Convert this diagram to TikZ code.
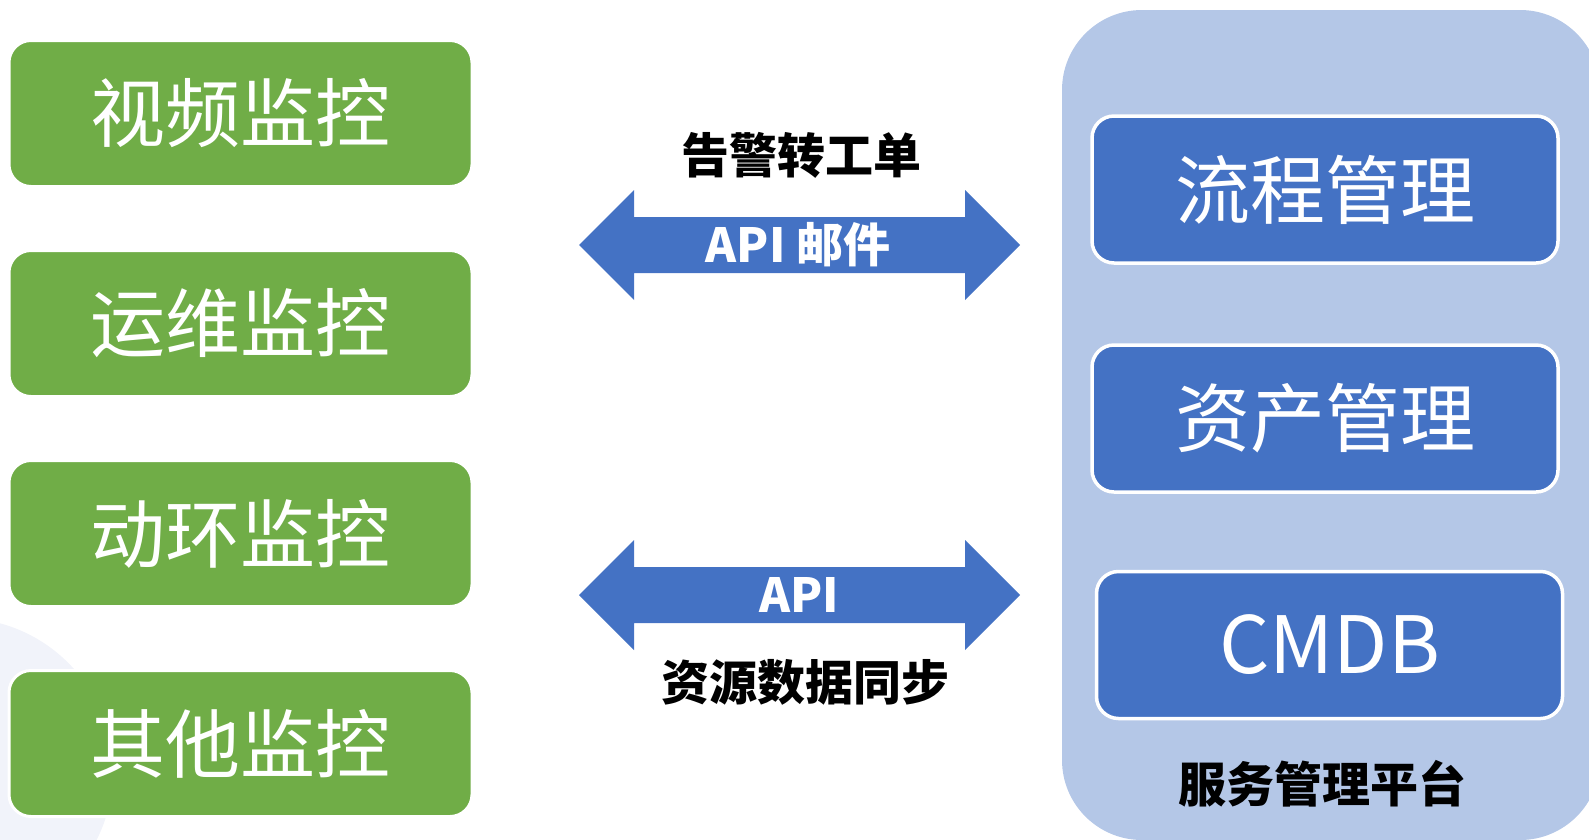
\documentclass[tikz,border=0pt]{standalone}
\usepackage{fontspec}
\setmainfont{Noto Sans CJK SC}
\begin{document}
\begin{tikzpicture}[x=1pt,y=-1pt,
  gbox/.style={fill=green1,draw=white,line width=3pt,rounded corners=22pt,minimum width=463pt,minimum height=146pt,inner sep=0pt,text=white,font=\fontsize{75}{75}\selectfont},
  bbox/.style={fill=blue1,draw=white,line width=3.5pt,rounded corners=22pt,minimum width=466pt,minimum height=147pt,inner sep=0pt,text=white,font=\fontsize{75}{75}\selectfont},
  blbl/.style={inner sep=0pt,text=black,font=\fontsize{48}{48}\selectfont\bfseries},
  wlbl/.style={inner sep=0pt,text=white,font=\fontsize{47}{47}\selectfont\bfseries},
  arrowshape/.style={fill=blue1}]
\definecolor{green1}{HTML}{70AD47}
\definecolor{blue1}{HTML}{4472C4}
\definecolor{panel}{HTML}{B4C7E7}
\definecolor{lav}{HTML}{F1F3FA}
\useasboundingbox (0,0) rectangle (1589,839);
\begin{scope}
\clip (0,0) rectangle (1589,839);
\fill[lav] (-40,771) circle (153);
\fill[panel, rounded corners=80pt] (1062,10) rectangle (1600,840);
\end{scope}
% left boxes
\node[gbox] (g1) at (240.5,113.5) {视频监控};
\node[gbox] (g2) at (240.5,323.5) {运维监控};
\node[gbox] (g3) at (240.5,533.5) {动环监控};
\node[gbox] (g4) at (240.5,743.5) {其他监控};
% right boxes
\node[bbox] (b1) at (1325,189.5) {流程管理};
\node[bbox] (b2) at (1325,418.5) {资产管理};
\node[bbox, font=\fontsize{79}{79}\selectfont] (b3) at (1329.5,645) {CMDB};
% arrows
\fill[arrowshape] (579,245) -- (634,190) -- (634,217) -- (965,217) -- (965,190) -- (1020,245) -- (965,300) -- (965,273) -- (634,273) -- (634,300) -- cycle;
\fill[arrowshape] (579,595) -- (634,540) -- (634,567) -- (965,567) -- (965,540) -- (1020,595) -- (965,650) -- (965,623) -- (634,623) -- (634,650) -- cycle;
% labels
\node[blbl] (t1) at (801,155) {告警转工单};
\node[wlbl] (a1) at (798,245) {API 邮件};
\node[wlbl] (a2) at (799,595) {API};
\node[blbl] (t2) at (805,682) {资源数据同步};
\node[blbl] (t3) at (1322,784) {服务管理平台};
\end{tikzpicture}
\end{document}
